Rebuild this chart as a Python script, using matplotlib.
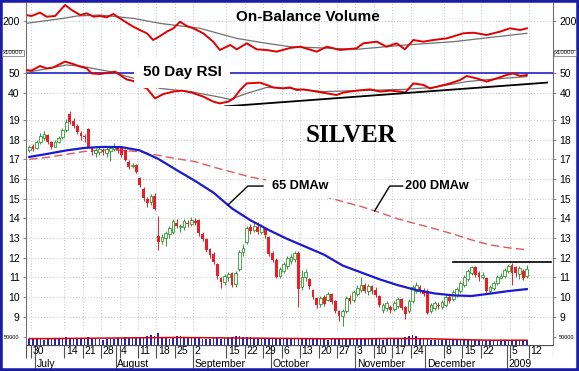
import numpy as np
import pandas as pd
import matplotlib
matplotlib.use("Agg")
import matplotlib.pyplot as plt
from matplotlib.patches import Rectangle

plt.rcParams["font.family"] = ["Liberation Sans", "DejaVu Sans"]

# ---------------------------------------------------------------
# trading calendar (x axis = trading day number)
# ---------------------------------------------------------------
holidays = ["2008-07-04", "2008-09-01", "2008-11-27", "2008-12-25", "2009-01-01"]
days = pd.bdate_range("2008-06-27", "2009-01-09")
days = days[~days.isin(pd.to_datetime(holidays))]

week_labels = ["2008-06-30", "2008-07-14", "2008-07-21", "2008-07-28", "2008-08-04",
               "2008-08-11", "2008-08-18", "2008-08-25", "2008-09-02", "2008-09-15",
               "2008-09-22", "2008-09-29", "2008-10-06", "2008-10-13", "2008-10-20",
               "2008-10-27", "2008-11-03", "2008-11-10", "2008-11-17", "2008-11-24",
               "2008-12-08", "2008-12-15", "2008-12-22", "2009-01-05", "2009-01-12"]
month_starts = ["2008-07-01", "2008-08-01", "2008-09-02", "2008-10-01",
                "2008-11-03", "2008-12-01", "2009-01-02"]
month_names = ["July", "August", "September", "October", "November", "December", "2009"]

# ---------------------------------------------------------------
# daily silver prices
# ---------------------------------------------------------------
opens = [17.45, 17.7, 17.55, 17.9, 18.1, 18.25, 17.9, 17.65, 17.9, 18.15,
         18.5, 19.3, 18.95, 18.7, 18.35, 18.2, 18.55, 17.55, 17.3, 17.35,
         17.45, 17.3, 17.4, 17.5, 17.6, 17.55, 17.45, 16.85, 16.65, 16.7,
         16.05, 15.5, 15.0, 14.85, 15.15, 13.1, 12.85, 13.0, 13.2, 13.3,
         13.75, 13.55, 13.55, 13.75, 13.7, 13.85, 13.9, 13.2, 12.95, 12.45,
         12.2, 11.7, 10.95, 10.75, 11.0, 11.2, 10.65, 11.4, 12.3, 12.8,
         13.55, 13.4, 13.55, 13.3, 13.45, 13.05, 12.25, 11.9, 11.05, 11.3,
         11.6, 11.85, 11.95, 12.25, 10.5, 11.0, 10.9, 10.35, 9.95, 9.65,
         10.0, 9.85, 10.15, 9.8, 9.3, 9.05, 9.3, 9.95, 9.85, 10.15,
         10.35, 10.6, 10.3, 10.55, 10.35, 10.05, 9.35, 9.45, 9.5, 9.4,
         9.55, 9.9, 9.5, 9.3, 9.8, 10.3, 10.5, 10.35, 10.3, 9.3,
         9.45, 9.6, 9.5, 9.6, 10.0, 9.9, 10.1, 10.3, 10.6, 10.9,
         11.2, 11.5, 11.2, 11.0, 10.95, 10.3, 10.45, 10.7, 10.95, 11.05,
         11.3, 11.65, 11.5, 11.15, 11.3, 11.05]
closes = [17.65, 17.5, 17.9, 18.2, 18.3, 17.9, 17.6, 17.9, 18.1, 18.5,
          18.9, 18.9, 18.7, 18.4, 18.2, 18.15, 17.65, 17.35, 17.45, 17.5,
          17.35, 17.5, 17.55, 17.7, 17.45, 17.2, 16.95, 16.6, 16.7, 16.35,
          15.7, 15.05, 14.8, 15.15, 14.45, 12.8, 13.05, 13.25, 13.5, 13.85,
          13.6, 13.6, 13.85, 13.7, 13.9, 13.75, 13.25, 12.95, 12.4, 12.15,
          11.8, 11.05, 10.75, 11.05, 11.15, 10.6, 11.2, 12.3, 12.5, 13.5,
          13.35, 13.6, 13.3, 13.6, 13.15, 12.2, 11.9, 11.0, 11.4, 11.7,
          12.0, 12.05, 12.25, 10.4, 11.0, 11.25, 10.55, 10.0, 9.6, 9.95,
          9.65, 10.15, 9.75, 9.3, 9.05, 9.3, 9.95, 9.8, 10.25, 10.45,
          10.6, 10.3, 10.55, 10.3, 10.1, 9.6, 9.6, 9.7, 9.35, 9.7,
          9.9, 9.45, 9.15, 9.8, 10.5, 10.6, 10.3, 10.15, 9.2, 9.6,
          9.7, 9.55, 9.75, 10.0, 9.8, 10.25, 10.4, 10.7, 11.0, 11.3,
          11.5, 11.1, 11.0, 11.1, 10.3, 10.5, 10.7, 11.0, 11.05, 11.35,
          11.55, 11.2, 11.2, 11.45, 10.95, 11.4]
highs = [17.75, 17.8, 18.0, 18.35, 18.45, 18.3, 17.95, 18.0, 18.2, 18.6,
         19.05, 19.45, 19.1, 18.8, 18.45, 18.3, 18.6, 17.6, 17.55, 17.6,
         17.55, 17.6, 17.65, 17.85, 17.7, 17.6, 17.5, 16.95, 16.8, 16.75,
         16.1, 15.6, 15.1, 15.25, 15.3, 14.1, 13.2, 13.35, 13.6, 13.95,
         13.95, 13.7, 13.95, 13.9, 14.05, 14.0, 13.95, 13.3, 13.0, 12.5,
         12.3, 11.75, 11.0, 11.15, 11.25, 11.25, 11.3, 12.4, 12.7, 13.6,
         13.7, 13.75, 13.8, 13.7, 13.55, 13.1, 12.35, 12.0, 11.5, 11.8,
         12.1, 12.2, 12.35, 12.35, 11.35, 11.4, 10.95, 10.4, 10.0, 10.05,
         10.1, 10.25, 10.2, 9.85, 9.35, 9.4, 10.05, 10.1, 10.35, 10.6,
         11.0, 10.7, 10.65, 10.6, 10.5, 10.1, 9.7, 9.8, 9.6, 9.8,
         10.0, 9.95, 9.55, 9.9, 10.6, 10.75, 10.6, 10.45, 10.4, 9.7,
         9.8, 9.75, 9.85, 10.1, 10.1, 10.35, 10.5, 10.8, 11.1, 11.4,
         11.6, 11.55, 11.3, 11.25, 11.0, 10.6, 10.8, 11.1, 11.2, 11.45,
         11.7, 11.75, 11.6, 11.55, 11.4, 11.65]
lows = [17.35, 17.4, 17.5, 17.8, 18.0, 17.8, 17.5, 17.6, 17.85, 18.05,
        18.4, 18.8, 18.6, 18.3, 18.0, 17.9, 17.6, 17.2, 17.1, 17.2,
        17.2, 17.1, 16.9, 17.4, 17.3, 17.1, 16.9, 16.5, 16.55, 16.3,
        15.6, 14.9, 14.6, 14.7, 14.4, 12.4, 12.7, 12.6, 13.0, 13.2,
        13.5, 13.3, 13.4, 13.55, 13.6, 13.65, 13.1, 12.85, 12.3, 12.0,
        11.7, 10.9, 10.45, 10.6, 10.8, 10.5, 10.5, 11.3, 12.1, 12.7,
        13.2, 13.3, 13.2, 13.2, 13.0, 12.1, 11.8, 10.95, 10.95, 11.2,
        11.4, 11.7, 11.8, 9.5, 10.35, 10.8, 10.4, 9.9, 9.45, 9.5,
        9.55, 9.8, 9.65, 9.2, 8.8, 8.5, 9.2, 9.65, 9.75, 10.05,
        10.25, 10.2, 10.1, 10.15, 10.0, 9.5, 9.2, 9.3, 9.2, 9.3,
        9.45, 9.35, 8.9, 9.2, 9.7, 10.2, 10.2, 10.05, 9.15, 9.2,
        9.35, 9.4, 9.4, 9.5, 9.7, 9.8, 10.0, 10.2, 10.5, 10.8,
        11.1, 11.0, 10.8, 10.9, 10.2, 10.2, 10.35, 10.6, 10.9, 10.95,
        11.2, 10.6, 11.0, 10.9, 10.85, 10.95]

# daily volume (contracts)
volume = [38, 42, 40, 36, 30, 41, 44, 39, 40, 43,
          52, 46, 41, 38, 36, 44, 48, 40, 37, 35,
          30, 38, 41, 39, 42, 45, 47, 44, 49, 46,
          50, 52, 55, 62, 58, 78, 48, 44, 40, 42,
          58, 55, 50, 47, 46, 52, 44, 40, 38, 36,
          41, 43, 39, 44, 46, 48, 55, 58, 52, 47,
          50, 45, 42, 40, 38, 44, 46, 42, 40, 39,
          37, 41, 38, 36, 35, 39, 42, 40, 38, 37,
          36, 34, 38, 40, 43, 45, 42, 40, 38, 36,
          35, 37, 39, 41, 38, 36, 34, 37, 40, 42,
          44, 46, 48, 55, 62, 58, 40, 38, 36, 34,
          33, 32, 30, 31, 33, 35, 34, 32, 31, 30,
          29, 31, 30, 28, 27, 29, 30, 28, 25, 27,
          31, 33, 32, 30, 29, 31]
volume = [v * 1000 for v in volume]

# moving averages, read every 5th trading day
ma_day = list(range(0, 136, 5))
ma65 = [17.12, 17.28, 17.45, 17.58, 17.63, 17.62, 17.45, 17.02, 16.45, 15.9,
        15.3, 14.5, 13.9, 13.4, 12.95, 12.55, 12.15, 11.6, 11.25, 10.9,
        10.6, 10.35, 10.18, 10.08, 10.05, 10.17, 10.3, 10.4]
ma200 = [17.0, 17.1, 17.25, 17.4, 17.47, 17.46, 17.38, 17.2, 17.03, 16.88,
         16.6, 16.35, 16.1, 15.92, 15.65, 15.38, 15.12, 14.85, 14.6, 14.3,
         13.97, 13.72, 13.47, 13.2, 12.9, 12.65, 12.5, 12.4]
vol_ma = [40, 40, 41, 42, 43, 44, 45, 46, 47, 46, 45, 44, 43, 42, 41, 40,
          39, 39, 39, 40, 41, 40, 38, 35, 32, 30, 30, 30]
vol_ma = [v * 1000 for v in vol_ma]

# 50 day RSI and its average
rsi_day = [-0.9, 0.6, 2.9, 4.7, 6.4, 9.7, 11.9, 13.8, 15.6, 16.9, 19.2, 21.9, 23.3,
           24.6, 26.4, 28.2, 30.0, 31.9, 34.1, 36.4, 39.1, 41.4, 44.1, 47.2, 49.9,
           51.7, 54.0, 55.4, 57.2, 59.0, 62.6, 64.4, 66.2, 68.9, 70.7, 72.6, 74.4,
           78.0, 80.7, 83.4, 85.2, 88.8, 92.5, 95.2, 97.9, 100.6, 102.0, 104.2,
           107.0, 108.7, 111.4, 114.2, 116.9, 118.7, 121.4, 124.1, 126.8, 129.5,
           131.3, 133.2, 135.0]
rsi_val = [51.5, 51.2, 53.5, 52.3, 52.7, 55.7, 54.5, 53.2, 52.3, 49.8, 49.5, 50.2, 50.7,
           49.0, 46.8, 46.0, 43.5, 42.3, 37.3, 39.5, 40.7, 41.2, 40.2, 38.2, 35.7,
           34.8, 35.7, 37.2, 41.5, 44.8, 45.2, 44.0, 42.8, 42.3, 42.8, 41.5, 41.8,
           40.7, 39.8, 39.0, 40.2, 41.2, 41.8, 40.7, 41.2, 40.7, 40.2, 44.8,
           44.0, 42.3, 43.5, 44.8, 46.5, 48.5, 47.3, 45.7, 47.3, 49.0,
           49.8, 48.5, 49.0]
rsi_avg_day = [-0.9, 10.1, 13.8, 21.9, 30.0, 35.5, 43.6, 50.9, 54.5, 59.0, 64.4,
               70.7, 79.8, 88.8, 101.5, 109.7, 118.7, 125.0, 135.0]
rsi_avg = [50.2, 54.0, 53.5, 50.7, 46.5, 42.3, 40.7, 38.2, 36.8, 39.8, 42.8,
           42.3, 40.7, 41.2, 41.8, 42.8, 45.7, 46.8, 48.2]
rsi_trend_day = [53.1, 140.5]
rsi_trend_val = [33.3, 45.2]

# on-balance volume (x10000) and its average
obv_day = [-0.9, 0.6, 2.9, 4.7, 7.0, 9.7, 11.5, 13.8, 15.6, 17.4, 19.2, 21.0, 22.8,
           24.6, 26.4, 28.2, 30.0, 31.9, 33.6, 35.5, 37.3, 39.1, 40.9, 42.7, 44.5,
           47.2, 49.9, 51.7, 54.5, 56.3, 59.0, 61.7, 64.4, 67.1, 70.7, 73.5, 78.0,
           80.7, 84.3, 88.8, 90.6, 94.3, 96.9, 99.7, 101.9, 104.2, 106.9, 109.6,
           113.3, 117.8, 120.5, 124.1, 127.7, 130.4, 133.2, 135.0]
obv_val = [210.0, 208.3, 213.9, 207.2, 208.3, 226.7, 218.3, 210.0, 212.8, 207.2,
           208.3, 206.1, 211.7, 204.4, 197.2, 190.5, 185.0, 179.5, 168.3, 175.0,
           182.2, 187.8, 198.9, 191.7, 187.8, 179.5, 165.5, 151.7, 160.0, 152.8,
           162.8, 152.8, 151.7, 148.9, 155.0, 157.2, 148.9, 157.2, 151.7, 154.5,
           162.8, 165.5, 157.2, 162.8, 152.8, 168.3, 165.5, 168.3, 171.1, 179.5,
           180.5, 176.7, 182.2, 187.8, 185.0, 187.8]
obv_avg_day = [-0.9, 9.2, 12.9, 19.2, 28.2, 35.5, 46.3, 56.2, 64.4, 70.7, 88.8,
               102.1, 115.0, 135.0]
obv_avg = [196.0, 204.4, 208.3, 210.0, 204.4, 196.0, 187.8, 171.1, 162.8, 157.2,
           152.8, 160.0, 165.5, 179.5]

resistance_level = 11.78
resistance_from = 115


def day_pos(date_str):
    return int(days.searchsorted(pd.Timestamp(date_str)))


def style_panel(ax, ylim, yticks, labelsize=7.5):
    ax.set_xlim(-0.9, 142.1)
    ax.set_ylim(*ylim)
    ax.set_yticks(yticks)
    for s in ["top", "bottom"]:
        ax.spines[s].set_visible(False)
    for s in ["left", "right"]:
        ax.spines[s].set_color("#707070")
        ax.spines[s].set_linewidth(0.8)
    ax.tick_params(axis="x", bottom=False, labelbottom=False)
    ax.tick_params(axis="y", left=True, right=True, labelleft=True,
                   labelright=True, direction="out", length=2.5, width=0.6,
                   color="#707070", labelsize=labelsize, pad=2)
    ax.grid(True, color="#c4c4c4", linestyle=(0, (1, 2)), linewidth=0.7)
    ax.set_axisbelow(True)


def plot_chart():

    W, H = 579, 371
    fig = plt.figure(figsize=(W / 100, H / 100), dpi=100, facecolor="white")

    def box(top, bottom):
        return [26 / W, 1 - bottom / H, 527 / W, (bottom - top) / H]

    ax_obv = fig.add_axes(box(3, 57))
    ax_rsi = fig.add_axes(box(57, 106))
    ax_px = fig.add_axes(box(106, 331))
    ax_vol = fig.add_axes(box(331, 345))
    ax_dt = fig.add_axes(box(345, 370))

    sep = [day_pos(d) - 0.5 for d in week_labels]
    x = np.arange(len(days))

    style_panel(ax_obv, (140, 230), [200])
    style_panel(ax_rsi, (33.5, 58), [40, 50])
    style_panel(ax_px, (8.27, 19.71), list(range(9, 20)))
    style_panel(ax_vol, (0, 87500), [50000], labelsize=4)
    ax_vol.set_yticklabels(["50000"])
    ax_vol.grid(False)
    for ax in [ax_obv, ax_rsi, ax_px, ax_vol]:
        ax.set_xticks(sep)

    # -------------------------------
    # On-Balance Volume
    # -------------------------------
    ax_obv.plot(obv_avg_day, obv_avg, color="#707070", lw=0.9)
    ax_obv.plot(obv_day, obv_val, color="#e00000", lw=1.4)
    ax_obv.text(56.1, 206.7, "On-Balance Volume", fontsize=11,
                fontweight="bold", va="center", ha="left")

    # -------------------------------
    # RSI
    # -------------------------------
    ax_rsi.axhline(50, color="#1010c8", lw=1.1, zorder=2)
    ax_rsi.plot(rsi_avg_day, rsi_avg, color="#707070", lw=0.9, zorder=3)
    ax_rsi.plot(rsi_day, rsi_val, color="#e00000", lw=1.4, zorder=4)
    ax_rsi.plot(rsi_trend_day, rsi_trend_val, color="black", lw=1.3, zorder=5)
    ax_rsi.text(30.8, 50.3, "50 Day RSI", fontsize=11, fontweight="bold",
                va="center", ha="left", zorder=6,
                bbox=dict(facecolor="white", edgecolor="none",
                          boxstyle="square,pad=0.55"))

    # -------------------------------
    # Price candles
    # -------------------------------
    o = np.array(opens)
    c = np.array(closes)
    up = c >= o
    ax_px.vlines(x[up], np.array(lows)[up], np.array(highs)[up],
                 color="#2e9a2e", lw=0.7, zorder=3)
    ax_px.vlines(x[~up], np.array(lows)[~up], np.array(highs)[~up],
                 color="#ee1c24", lw=0.7, zorder=3)
    ax_px.bar(x[up], (c - o)[up], bottom=o[up], width=0.75,
              facecolor="white", edgecolor="#2e9a2e", lw=0.6, zorder=4)
    ax_px.bar(x[~up], (c - o)[~up], bottom=o[~up], width=0.75,
              color="#ee1c24", lw=0, zorder=4)

    ax_px.plot(ma_day, ma200, color="#e25a5a", lw=1.0,
               linestyle=(0, (6, 3)), zorder=2)
    ax_px.plot(ma_day, ma65, color="#1a1ad2", lw=1.6, zorder=5)
    ax_px.plot([resistance_from, 141.5], [resistance_level] * 2,
               color="black", lw=1.2, zorder=5)

    ax_px.text(75.0, 18.2, "SILVER", fontsize=18, fontweight="bold",
               family="Liberation Serif", va="center", ha="left")

    # leader labels for the moving averages
    lab_y = 15.64
    p65 = 53.9
    v65 = np.interp(p65, ma_day, ma65)
    ax_px.plot([p65, p65 + 5.4, p65 + 9.5], [v65, lab_y, lab_y],
               color="black", lw=1.0, zorder=6)
    ax_px.text(65.9, lab_y, "65 DMAw", fontsize=9.2, fontweight="bold",
               va="center", ha="left", zorder=5,
               bbox=dict(facecolor="white", edgecolor="none",
                         boxstyle="square,pad=0.5"))
    p200 = 93.7
    v200 = np.interp(p200, ma_day, ma200)
    ax_px.plot([p200, p200 + 4.1, p200 + 7.6], [v200, lab_y, lab_y],
               color="black", lw=1.0, zorder=6)
    ax_px.text(102.0, lab_y, "200 DMAw", fontsize=9.2, fontweight="bold",
               va="center", ha="left", zorder=5,
               bbox=dict(facecolor="white", edgecolor="none",
                         boxstyle="square,pad=0.5"))

    # -------------------------------
    # Volume
    # -------------------------------
    ax_vol.bar(x, volume, width=0.45, color="#2424c0", lw=0)
    ax_vol.plot(ma_day, vol_ma, color="#e00000", lw=1.1)

    # -------------------------------
    # Date axis
    # -------------------------------
    ax_dt.set_xlim(-0.9, 142.1)
    ax_dt.set_ylim(0, 1)
    ax_dt.axis("off")
    ax_dt.axhline(1, color="#505050", lw=0.9)
    ax_dt.vlines([-0.9, 142.1], 0.48, 1, color="#505050", lw=0.8)
    ax_dt.vlines(sep, 0.48, 1, color="#505050", lw=0.8)
    for s, d in zip(sep, week_labels):
        ax_dt.text(s + 0.4, 0.74, str(pd.Timestamp(d).day), fontsize=7.5,
                   va="center", ha="left")
    msep = [day_pos(d) - 0.5 for d in month_starts]
    ax_dt.vlines(msep, 0, 1, color="#505050", lw=0.8)
    for s, name in zip(msep, month_names):
        ax_dt.text(s + 0.4, 0.24, name, fontsize=7.5, va="center", ha="left")

    # small "x10000" scale tags
    for xf in [3 / W, 555 / W]:
        fig.text(xf, 1 - 53 / H, "x10000", fontsize=4.3, va="center",
                 ha="left", bbox=dict(facecolor="white", edgecolor="#808080",
                                      boxstyle="square,pad=0.15", lw=0.6))

    # blue outer frame
    fig.patches.append(Rectangle((0, 0), 1, 1, transform=fig.transFigure,
                                 fill=False, edgecolor="#1c1ca8", lw=4.0))

    fig.savefig("out.png", dpi=100, facecolor="white")
    plt.close(fig)


if __name__ == "__main__":
    plot_chart()
